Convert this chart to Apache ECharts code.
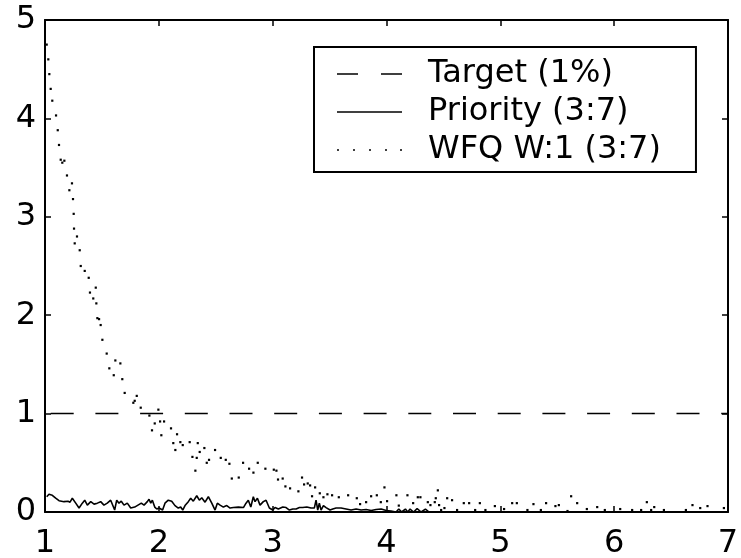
<!DOCTYPE html>
<html>
<head>
<meta charset="utf-8">
<title>Loss vs. load</title>
<script src="https://cdn.jsdelivr.net/npm/echarts@6/dist/echarts.min.js"></script>
<style>
  html, body { margin: 0; padding: 0; background: #fff; }
  #chart { width: 741px; height: 558px; }
</style>
</head>
<body>
<div id="chart"></div>
<script>
// Axis ranges and ticks
const xTicks = [1, 2, 3, 4, 5, 6, 7];
const yTicks = [0, 1, 2, 3, 4, 5];

// Series names
const seriesNames = ['Target (1%)', 'Priority (3:7)', 'WFQ W:1 (3:7)'];

// Target loss level (1%)
const targetX = [1, 7];
const targetY = [1, 1];

// Priority scheduling (3:7)
const prioX = [1.015, 1.035, 1.064, 1.094, 1.123, 1.167, 1.202, 1.220, 1.240, 1.270,
  1.299, 1.328, 1.349, 1.372, 1.402, 1.431, 1.460, 1.489, 1.518, 1.547,
  1.577, 1.591, 1.612, 1.630, 1.650, 1.670, 1.694, 1.723, 1.753, 1.788,
  1.817, 1.846, 1.870, 1.899, 1.914, 1.929, 1.943, 1.964, 1.982, 2.002,
  2.033, 2.054, 2.083, 2.113, 2.142, 2.171, 2.192, 2.210, 2.230, 2.259,
  2.280, 2.303, 2.333, 2.356, 2.377, 2.406, 2.435, 2.465, 2.494, 2.514,
  2.538, 2.567, 2.597, 2.626, 2.655, 2.699, 2.743, 2.766, 2.786, 2.808,
  2.830, 2.845, 2.866, 2.889, 2.918, 2.942, 2.971, 3.001, 3.021, 3.050,
  3.089, 3.118, 3.147, 3.177, 3.206, 3.235, 3.264, 3.300, 3.337, 3.366,
  3.381, 3.396, 3.410, 3.425, 3.446, 3.469, 3.484, 3.504, 3.528, 3.557,
  3.601, 3.645, 3.689, 3.733, 3.777, 3.821, 3.865, 3.909, 3.953, 3.998,
  4.040, 4.084, 4.108, 4.133, 4.166, 4.187, 4.207, 4.238, 4.269, 4.304,
  4.342, 4.374, 4.500];
const prioY = [0.155, 0.18, 0.17, 0.14, 0.115, 0.105, 0.11, 0.10, 0.14, 0.09,
  0.04, 0.09, 0.12, 0.07, 0.105, 0.08, 0.09, 0.105, 0.07, 0.09,
  0.12, 0.14, 0.02, 0.12, 0.09, 0.11, 0.07, 0.09, 0.04, 0.05,
  0.07, 0.09, 0.07, 0.105, 0.13, 0.09, 0.12, 0.05, 0.03, 0.04,
  0.02, 0.09, 0.12, 0.11, 0.065, 0.04, 0.05, 0.02, 0.065, 0.105,
  0.14, 0.11, 0.165, 0.12, 0.145, 0.10, 0.155, 0.09, 0.02, 0.09,
  0.07, 0.05, 0.065, 0.04, 0.045, 0.05, 0.045, 0.09, 0.12, 0.05,
  0.155, 0.105, 0.14, 0.07, 0.105, 0.12, 0.04, 0.02, 0.045, 0.03,
  0.05, 0.045, 0.02, 0.03, 0.03, 0.045, 0.045, 0.05, 0.04, 0.04,
  0.12, 0.02, 0.09, 0.02, 0.065, 0.045, 0.065, 0.02, 0.03, 0.04,
  0.04, 0.03, 0.02, 0.03, 0.02, 0.025, 0.015, 0.025, 0.03, 0.015,
  0.01, 0.0, 0.03, 0.0, 0.03, 0.0, 0.03, 0.0, 0.035, 0.0,
  0.03, 0.0, 0.0];

// WFQ with weight 1 (3:7), plotted as individual points
const wfqX = [1.015, 1.029, 1.038, 1.050, 1.064, 1.097, 1.112, 1.123, 1.138, 1.152,
  1.170, 1.193, 1.214, 1.237, 1.246, 1.252, 1.255, 1.261, 1.281, 1.305,
  1.314, 1.349, 1.384, 1.395, 1.424, 1.446, 1.451, 1.460, 1.475, 1.489,
  1.504, 1.542, 1.565, 1.604, 1.618, 1.662, 1.679, 1.700, 1.776, 1.788,
  1.806, 1.841, 1.917, 1.940, 1.964, 1.996, 2.011, 2.022, 2.046, 2.107,
  2.127, 2.145, 2.160, 2.189, 2.210, 2.271, 2.295, 2.321, 2.333, 2.342,
  2.359, 2.400, 2.421, 2.441, 2.494, 2.544, 2.588, 2.620, 2.641, 2.702,
  2.740, 2.793, 2.831, 2.869, 2.936, 3.010, 3.033, 3.047, 3.088, 3.112,
  3.153, 3.226, 3.258, 3.276, 3.308, 3.329, 3.346, 3.373, 3.414, 3.446,
  3.481, 3.522, 3.581, 3.663, 3.739, 3.768, 3.821, 3.865, 3.915, 3.950,
  3.982, 4.005, 4.087, 4.108, 4.184, 4.234, 4.275, 4.298, 4.363, 4.386,
  4.424, 4.433, 4.451, 4.462, 4.480, 4.509, 4.533, 4.576, 4.620, 4.679,
  4.726, 4.779, 4.820, 4.869, 4.952, 5.033, 5.104, 5.145, 5.238, 5.291,
  5.356, 5.402, 5.484, 5.514, 5.590, 5.622, 5.675, 5.760, 5.851, 5.918,
  6.053, 6.158, 6.237, 6.287, 6.325, 6.352, 6.437, 6.630, 6.688, 6.756,
  6.820, 6.964];
const wfqY = [4.75, 4.60, 4.45, 4.30, 4.18, 4.03, 3.88, 3.73, 3.58, 3.55,
  3.57, 3.42, 3.27, 3.34, 3.18, 3.03, 2.88, 2.73, 2.80, 2.66,
  2.50, 2.45, 2.38, 2.23, 2.17, 2.28, 2.12, 1.97, 1.96, 1.90,
  1.75, 1.61, 1.46, 1.39, 1.54, 1.51, 1.35, 1.21, 1.11, 1.13,
  1.18, 1.06, 0.98, 0.83, 0.90, 1.04, 0.92, 0.78, 0.92, 0.85,
  0.70, 0.63, 0.79, 0.71, 0.68, 0.71, 0.56, 0.42, 0.55, 0.70,
  0.61, 0.65, 0.50, 0.53, 0.63, 0.55, 0.53, 0.49, 0.34, 0.35,
  0.50, 0.44, 0.40, 0.50, 0.44, 0.43, 0.42, 0.33, 0.34, 0.26,
  0.24, 0.21, 0.35, 0.28, 0.29, 0.27, 0.16, 0.25, 0.19, 0.15,
  0.18, 0.17, 0.15, 0.17, 0.14, 0.08, 0.10, 0.16, 0.17, 0.10,
  0.25, 0.11, 0.17, 0.065, 0.17, 0.09, 0.15, 0.15, 0.10, 0.07,
  0.10, 0.14, 0.22, 0.07, 0.02, 0.04, 0.14, 0.12, 0.02, 0.09,
  0.09, 0.02, 0.09, 0.02, 0.06, 0.03, 0.09, 0.09, 0.02, 0.08,
  0.02, 0.09, 0.06, 0.07, 0.01, 0.16, 0.09, 0.03, 0.05, 0.02,
  0.03, 0.02, 0.02, 0.10, 0.02, 0.05, 0.02, 0.02, 0.07, 0.04,
  0.06, 0.04];

const zip = (xs, ys) => xs.map((x, i) => [x, ys[i]]);

const FONT = 'DejaVu Sans';
const INK = '#000';

// Legend icons: dashed, solid and dotted strokes
const iconDashed = 'path://M0,0H21V2H0Z M44,0H65V2H44Z';
const iconSolid = 'path://M0,0H65V2H0Z';
const iconDotted = 'path://M0,0h2v2h-2z M16,0h2v2h-2z M32,0h2v2h-2z M48,0h2v2h-2z M63,0h2v2h-2z';

function valueAxis(ticks, position, showLabels, labelMargin) {
  return {
    type: 'value',
    position: position,
    min: ticks[0],
    max: ticks[ticks.length - 1],
    interval: ticks[1] - ticks[0],
    axisLine: { show: true, onZero: false, lineStyle: { color: INK, width: 2 } },
    axisTick: { show: true, inside: true, length: 6, lineStyle: { color: INK, width: 1.5 } },
    axisLabel: {
      show: showLabels,
      margin: labelMargin,
      color: INK,
      fontFamily: FONT,
      fontSize: 32
    },
    splitLine: { show: false }
  };
}

const chart = echarts.init(document.getElementById('chart'), null, { renderer: 'canvas' });

chart.setOption({
  animation: false,
  backgroundColor: '#fff',
  grid: { left: 45, right: 13, top: 20, bottom: 46, containLabel: false, outerBoundsMode: 'none' },
  xAxis: [
    valueAxis(xTicks, 'bottom', true, 16),
    valueAxis(xTicks, 'top', false, 8)
  ],
  yAxis: [
    valueAxis(yTicks, 'left', true, 9),
    valueAxis(yTicks, 'right', false, 8)
  ],
  legend: {
    orient: 'vertical',
    left: 314,
    top: 47,
    padding: [11, 35, 6, 23],
    itemGap: 6,
    itemWidth: 65,
    itemHeight: 1.7,
    symbolKeepAspect: false,
    selectedMode: false,
    borderColor: INK,
    borderWidth: 2,
    backgroundColor: '#fff',
    itemStyle: { color: INK, borderWidth: 0, opacity: 1 },
    textStyle: {
      color: INK,
      fontFamily: FONT,
      fontSize: 32,
      lineHeight: 32,
      padding: [0, 0, 0, 21]
    },
    data: [
      { name: seriesNames[0], icon: iconDashed },
      { name: seriesNames[1], icon: iconSolid },
      { name: seriesNames[2], icon: iconDotted }
    ]
  },
  series: [
    {
      name: seriesNames[0],
      type: 'line',
      data: zip(targetX, targetY),
      showSymbol: false,
      color: INK,
      lineStyle: { color: INK, width: 1.5, type: [23, 21.7], dashOffset: 39 },
      z: 3
    },
    {
      name: seriesNames[1],
      type: 'line',
      data: zip(prioX, prioY),
      showSymbol: false,
      color: INK,
      lineStyle: { color: INK, width: 1.6 },
      z: 3
    },
    {
      name: seriesNames[2],
      type: 'scatter',
      data: zip(wfqX, wfqY),
      symbol: 'rect',
      symbolSize: 2.2,
      color: INK,
      itemStyle: { color: INK, opacity: 1 },
      z: 4
    }
  ]
});
</script>
</body>
</html>
